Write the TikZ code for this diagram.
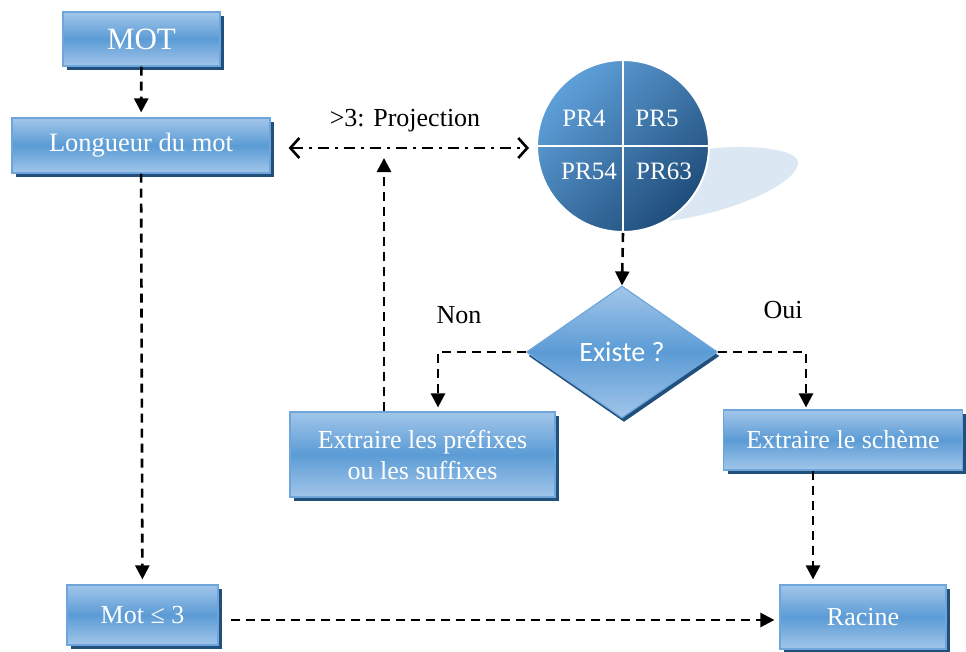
\documentclass[tikz,border=0pt]{standalone}
\usepackage{fontspec}
\setmainfont{Liberation Serif}
\newfontfamily\calib{Carlito}
\usetikzlibrary{arrows.meta,shapes.geometric,shadows,calc}

\definecolor{boxlight}{HTML}{A2C6EA}
\definecolor{boxmid}{HTML}{5B9BD5}
\definecolor{boxedge}{HTML}{6EA6DC}
\definecolor{shadowblue}{HTML}{21507C}
\definecolor{orbtop}{HTML}{5FA0DA}
\definecolor{orbbottom}{HTML}{1F4D7A}
\definecolor{swoosh}{HTML}{DCE7F4}

\tikzset{
  flowbox/.style={rectangle, draw=boxedge, line width=1.2pt,
    top color=boxlight, bottom color=boxlight, middle color=boxmid,
    general shadow={fill=shadowblue, shadow xshift=4pt, shadow yshift=-4pt},
    text=white, font=\fontsize{26}{31}\selectfont, align=center, inner sep=0pt},
  decision/.style={diamond, draw=boxedge, line width=1.2pt,
    top color=boxlight, bottom color=boxlight, middle color=boxmid,
    general shadow={fill=shadowblue, shadow xshift=2pt, shadow yshift=-4pt},
    text=white, inner sep=0pt, minimum width=191pt, minimum height=132pt},
  label text/.style={font=\fontsize{26}{31}\selectfont, text=black, inner sep=0pt},
  orb text/.style={font=\fontsize{25}{30}\selectfont, text=white, inner sep=0pt},
  tri/.tip={Triangle[length=14pt, width=14pt]},
  barb/.tip={Straight Barb[length=9pt, width=20pt, line width=2.6pt]},
  flowline/.style={line width=2.6pt, dash pattern=on 9pt off 6pt, -tri, shorten >=5pt},
  projline/.style={line width=2.6pt, dash pattern=on 11pt off 6pt on 3pt off 6pt, barb-barb},
}

\begin{document}
\begin{tikzpicture}[x=1pt, y=-1pt]
  \useasboundingbox (0,0) rectangle (966,651);

  % light swoosh behind the orb
  \fill[swoosh] (640,224) .. controls (730,218) and (800,182) .. (798,162)
    .. controls (796,146) and (730,143) .. (690,152) -- (660,170) -- cycle;

  % the projection orb split into four sectors
  \node[circle, minimum size=172pt, inner sep=0pt, draw=white, line width=2pt,
        shading=axis, top color=orbtop, bottom color=orbbottom, shading angle=45]
        (orb) at (623,146) {};
  \draw[white, line width=2pt] (orb.north) -- (orb.south);
  \draw[white, line width=2pt] (orb.west) -- (orb.east);
  \node[orb text] (pr4)  at (584,118) {PR4};
  \node[orb text] (pr5)  at (657,118) {PR5};
  \node[orb text] (pr54) at (589,171) {PR54};
  \node[orb text] (pr63) at (664,171) {PR63};

  % process boxes
  \node[flowbox, minimum width=157pt, minimum height=54pt, font=\fontsize{31}{36}\selectfont]
        (mot) at (141.5,39) {MOT};
  \node[flowbox, minimum width=258pt, minimum height=55pt, font=\fontsize{26.5}{31}\selectfont]
        (long) at (141,145.5) {Longueur du mot};
  \node[flowbox, minimum width=265pt, minimum height=85pt] (pref) at (422.5,454.5)
        {Extraire les préfixes\\ou les suffixes};
  \node[flowbox, minimum width=239pt, minimum height=60pt] (sch) at (843,440) {Extraire le schème};
  \node[flowbox, minimum width=151pt, minimum height=60pt] (mot3) at (142.5,615) {Mot ≤ 3};
  \node[flowbox, minimum width=166pt, minimum height=64pt] (rac) at (863,617) {Racine};

  % decision
  \node[decision, font=\calib\fontsize{28}{32}\selectfont] (dia) at (622,352) {Existe ?};

  % labels
  \node[label text] (proj) at (405,121) {>3: Projection};
  \node[label text] (non)  at (459,315) {Non};
  \node[label text] (oui)  at (783,310) {Oui};

  % connectors
  \draw[flowline] (mot) -- (long);
  \draw[flowline] (long) -- (mot3);
  \draw[projline] ([xshift=18pt,yshift=-2.5pt]long.east) -- ([xshift=-7pt,yshift=-2pt]orb.west);
  \coordinate (upend) at (384,158);
  \draw[flowline, shorten >=0pt] (pref.north -| upend) -- (upend);
  \draw[flowline, shorten >=0pt] (orb.south) -- (dia.north);
  \draw[flowline, shorten >=4pt] (dia.west) -| ([xshift=15.5pt]pref.north);
  \draw[flowline, shorten >=2pt] (dia.east) -| ([xshift=-37pt]sch.north);
  \draw[flowline] ([xshift=-30pt]sch.south) -- ([xshift=-30pt]sch.south |- rac.north);
  \coordinate (lowrow) at (0,620);
  \draw[flowline, shorten <=12pt] (mot3.east |- lowrow) -- (rac.west |- lowrow);
\end{tikzpicture}
\end{document}
